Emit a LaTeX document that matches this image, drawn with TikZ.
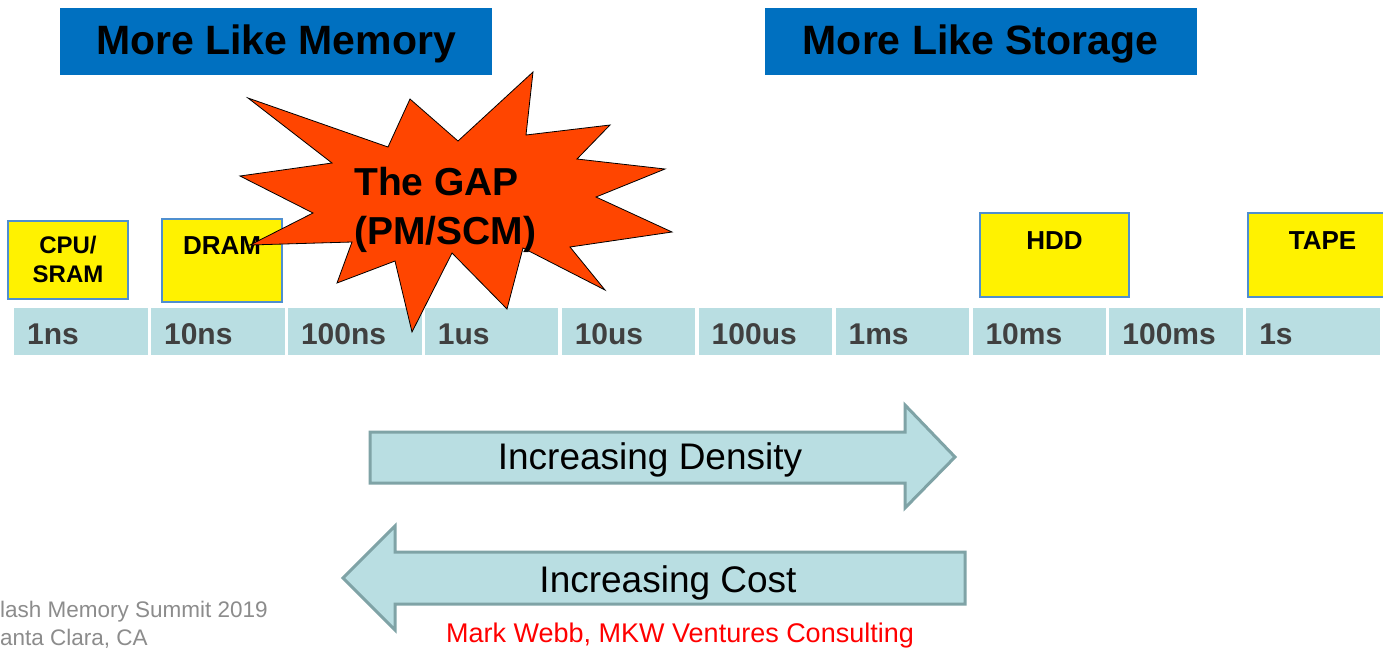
\documentclass[tikz,border=0pt]{standalone}
\usepackage{fontspec}
\setmainfont{Liberation Sans}
\definecolor{hdrblue}{HTML}{0070C0}
\definecolor{cellfill}{HTML}{B9DEE2}
\definecolor{celltext}{HTML}{404040}
\definecolor{boxedge}{HTML}{4F8FCF}
\definecolor{burst}{HTML}{FF4500}
\definecolor{arrowedge}{HTML}{7FA3A6}
\definecolor{footgray}{HTML}{8C8C8C}
\definecolor{credred}{HTML}{FF0000}
\begin{document}
\begin{tikzpicture}[x=1pt,y=-1pt,
  header/.style={fill=hdrblue, draw=none, minimum width=432pt, minimum height=67pt, inner sep=0pt,
    text height=29.4pt, text depth=3pt,
    font=\bfseries\fontsize{41}{49}\selectfont, text=black},
  cell/.style={fill=cellfill, draw=none, minimum height=47pt, text width=107.5pt, inner xsep=13pt,
    inner ysep=0pt, align=left, anchor=north west, text height=26.5pt, text depth=0pt,
    font=\bfseries\fontsize{30}{36}\selectfont, text=celltext},
  ybox/.style={fill=yellow, draw=boxedge, line width=1.2pt, inner sep=0pt},
  ytext/.style={font=\bfseries\fontsize{24}{29}\selectfont, text=black, inner sep=0pt, align=center},
  ytextbig/.style={ytext, font=\bfseries\fontsize{26}{31}\selectfont},
  gaptext/.style={font=\bfseries\fontsize{39}{50}\selectfont, text=black, inner sep=0pt, anchor=west,
    text height=27.9pt, text depth=0pt},
  bigarrow/.style={fill=cellfill, draw=arrowedge, line width=3pt, line join=miter},
  arrtext/.style={font=\fontsize{37}{44}\selectfont, text=black, inner sep=0pt,
    text height=26.5pt, text depth=0pt}
]
\clip (0,0) rectangle (1383,649);
\fill[white] (0,0) rectangle (1383,649);

% headers
\node[header] (mem) at (276,41.5) {More Like Memory};
\node[header] (sto) at (980.5,41.5) {More Like Storage};

% timeline
\foreach \i/\t in {0/1ns,1/10ns,2/100ns,3/1us,4/10us,5/100us,6/1ms,7/10ms,8/100ms,9/1s}{
  \node[cell] (c\i) at ({14+136.9*\i},308) {\t};
}

% yellow boxes
\node[ybox, minimum width=120pt, minimum height=78pt] (cpu) at (68,260) {};
\node[ytext] (cput) at (68,259.5) {CPU/\\SRAM};
\node[ybox, minimum width=120pt, minimum height=83pt] (dram) at (222,260.5) {};
\node[ytextbig] (dramt) at (222,245.5) {DRAM};
\node[ybox, minimum width=149pt, minimum height=84pt] (hdd) at (1054.5,255) {};
\node[ytextbig] (hddt) at (1054.5,240.5) {HDD};
\node[ybox, minimum width=149pt, minimum height=84pt] (tape) at (1322.5,255) {};
\node[ytextbig] (tapet) at (1322.5,240.5) {TAPE};

% starburst
\draw[fill=burst, draw=black, line width=0.8pt, line join=miter]
  (248,98) -- (388,147) -- (410,99) -- (458,141) -- (533,72) -- (526,135) -- (610,125)
  -- (577,159) -- (665,169) -- (596,197) -- (672,232) -- (570,247) -- (605,290)
  -- (523,248) -- (507,309) -- (452,253) -- (412,332) -- (395,261) -- (337,283)
  -- (352,242) -- (250,245) -- (313,213) -- (240,176) -- (332,163) -- cycle;
\node[gaptext] (gap1) at (354,181.5) {The GAP};
\node[gaptext] (gap2) at (354,231) {(PM/SCM)};

% arrows
\draw[bigarrow] (370,432) -- (905,432) -- (905,405) -- (955,457) -- (905,508) -- (905,483) -- (370,483) -- cycle;
\node[arrtext] (dens) at (650,456.5) {Increasing Density};
\draw[bigarrow] (965,552) -- (395,552) -- (395,526) -- (343,578) -- (395,630) -- (395,604) -- (965,604) -- cycle;
\node[arrtext] (cost) at (668,579.5) {Increasing Cost};

% credits
\node[font=\fontsize{27}{32}\selectfont, text=credred, inner sep=0pt] (cred) at (680,636) {Mark Webb, MKW Ventures Consulting};
\node[font=\fontsize{22.5}{27}\selectfont, text=footgray, inner sep=0pt, anchor=west] (f1) at (0,612) {lash Memory Summit 2019};
\node[font=\fontsize{22.5}{27}\selectfont, text=footgray, inner sep=0pt, anchor=west] (f2) at (0,639) {anta Clara, CA};
\end{tikzpicture}
\end{document}
